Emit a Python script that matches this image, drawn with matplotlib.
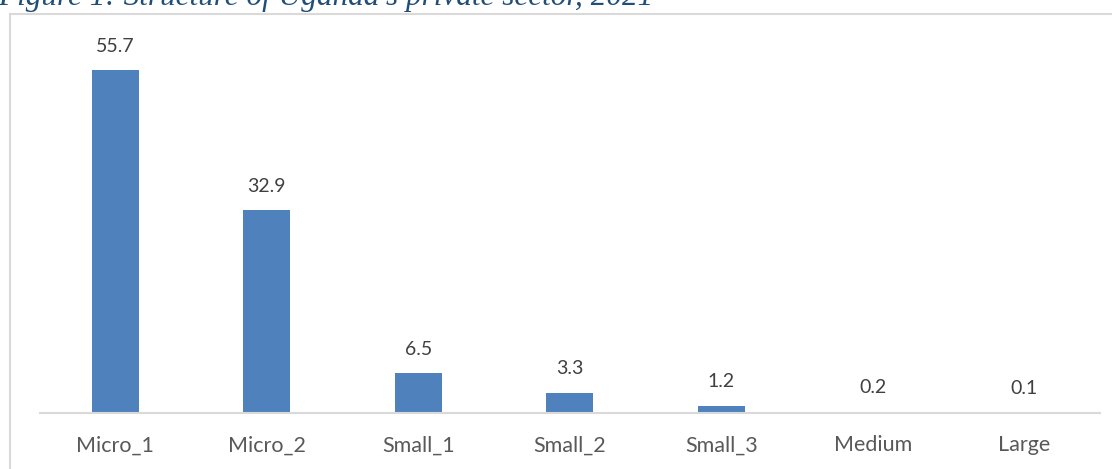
import matplotlib
matplotlib.use("Agg")
import matplotlib.pyplot as plt
from matplotlib.patches import Rectangle

categories = ["Micro_1", "Micro_2", "Small_1", "Small_2", "Small_3", "Medium", "Large"]
values = [55.7, 32.9, 6.5, 3.3, 1.2, 0.2, 0.1]
value_labels = ["55.7", "32.9", "6.5", "3.3", "1.2", "0.2", "0.1"]
title = "Figure 1: Structure of Uganda's private sector, 2021"

W, H = 1112, 469
fig = plt.figure(figsize=(W / 100, H / 100), dpi=100)
fig.patch.set_facecolor("white")

# outer chart border (cropped at bottom/right)
fig.patches.append(Rectangle((10 / W, -0.05), 1.2, (H - 14.5) / H + 0.05,
                             transform=fig.transFigure, fill=False,
                             edgecolor="#d9d9d9", linewidth=1.5))

fig.text(-0.002, (H - 5.5) / H, title, family="Liberation Serif", style="italic",
         fontsize=22.5, color="#1F4E79", ha="left", va="baseline")

ax = fig.add_axes([39.5 / W, (H - 413) / H, (1100 - 39.5) / W, (413 - 43.5) / H])
x = range(len(categories))
ax.bar(x, values, width=0.31, color="#4F81BD")
ax.set_xlim(-0.5, len(categories) - 0.5)
ax.set_ylim(0, 60)
for xi, v, lab in zip(x, values, value_labels):
    ax.annotate(lab, (xi, v), xytext=(0, 11), textcoords="offset points",
                ha="center", va="bottom", fontsize=14, color="#404040",
                family="Lato")
ax.set_xticks(list(x))
ax.set_xticklabels(categories, fontsize=15.5, color="#595959", family="Lato")
ax.tick_params(axis="x", length=0, pad=16)
ax.set_yticks([])
for s in ["top", "right", "left"]:
    ax.spines[s].set_visible(False)
ax.spines["bottom"].set_color("#d9d9d9")
ax.spines["bottom"].set_linewidth(1.5)
ax.set_facecolor("none")

fig.savefig("out.png", dpi=100)
